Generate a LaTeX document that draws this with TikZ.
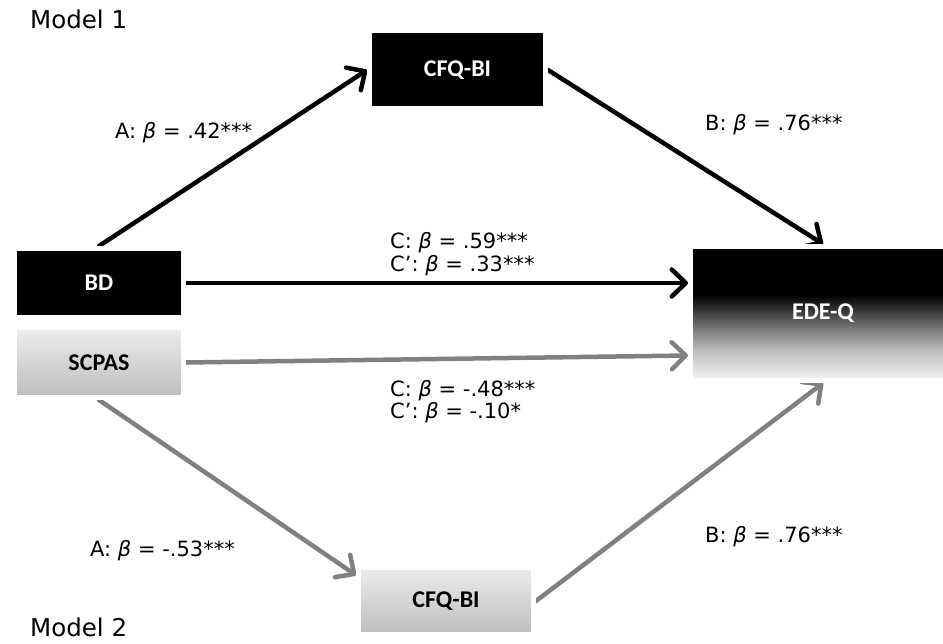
\documentclass[tikz,border=0pt]{standalone}
\usepackage{fontspec}
\setmainfont{Carlito}
\newfontfamily\labfont{DejaVu Sans}
\usetikzlibrary{arrows.meta,shadows,backgrounds,calc}
\definecolor{arrgray}{RGB}{128,128,128}
\pgfdeclareverticalshading{edeqshade}{100bp}{rgb(0bp)=(.96,.96,.96); rgb(25bp)=(.96,.96,.96); rgb(36bp)=(.75,.75,.75); rgb(45bp)=(.45,.45,.45); rgb(57bp)=(0,0,0); rgb(100bp)=(0,0,0)}
\pgfdeclareverticalshading{lightshade}{100bp}{rgb(0bp)=(.74,.74,.74); rgb(25bp)=(.74,.74,.74); rgb(75bp)=(.93,.93,.93); rgb(100bp)=(.93,.93,.93)}
\tikzset{
  box/.style={draw=white, line width=5pt, inner sep=0pt,
    drop shadow={shadow xshift=1.5pt, shadow yshift=-2.5pt, opacity=0.35, fill=black},
    font=\fontsize{24}{28}\selectfont\bfseries},
  darkbox/.style={box, fill=black, text=white},
  lightbox/.style={box, shade, shading=lightshade, text=black},
  edebox/.style={box, shade, shading=edeqshade, text=white},
  lab/.style={anchor=west, inner sep=0pt, font=\labfont\fontsize{21}{25}\selectfont},
  mlab/.style={anchor=west, inner sep=0pt, font=\labfont\fontsize{24.5}{28}\selectfont},
  conn/.style={line width=4.5pt, line cap=round, -{Straight Barb[round, length=14pt, width=27pt]}},
  blk/.style={conn, draw=black},
  gry/.style={conn, draw=arrgray}
}
\begin{document}
\begin{tikzpicture}[x=1pt,y=-1pt]
\useasboundingbox (0,0) rectangle (943,644);
\node[darkbox, minimum width=176pt, minimum height=78pt] (cfq1) at (457.5,70) {CFQ-BI};
\node[darkbox, minimum width=169pt, minimum height=69pt] (bd) at (99,283) {BD};
\node[lightbox, minimum width=169pt, minimum height=70pt] (scpas) at (99,362.5) {SCPAS};
\node[edebox, minimum width=265pt, minimum height=134pt] (edeq) at (823,313.5) {EDE-Q};
\node[lightbox, minimum width=175pt, minimum height=67pt] (cfq2) at (446,601) {CFQ-BI};

\begin{scope}[on background layer]
\draw[blk] (bd.north) -- (cfq1.west);
\draw[blk] (cfq1.east) -- (edeq.north);
\draw[blk] (bd.east) -- (bd.east -| edeq.west);
\coordinate (sc) at ($(edeq.west)+(0,42)$);
\draw[gry] (scpas.east) -- (sc);
\draw[gry] (scpas.south) -- (cfq2.164);
\draw[gry] (cfq2.east) -- (edeq.south);
\end{scope}

\node[mlab] (m1) at (30,19) {Model 1};
\node[mlab] (m2) at (30,627) {Model 2};
\node[lab] (a1) at (115,133) {A: \textit{β} = .42***};
\node[lab] (b1) at (705,125) {B: \textit{β} = .76***};
\node[lab] (c1) at (390,243) {C: \textit{β} = .59***};
\node[lab] (cp1) at (390,266) {C’: \textit{β} = .33***};
\node[lab] (c2) at (390,391) {C: \textit{β} = -.48***};
\node[lab] (cp2) at (390,413) {C’: \textit{β} = -.10*};
\node[lab] (a2) at (90,551) {A: \textit{β} = -.53***};
\node[lab] (b2) at (705,537) {B: \textit{β} = .76***};
\end{tikzpicture}
\end{document}
